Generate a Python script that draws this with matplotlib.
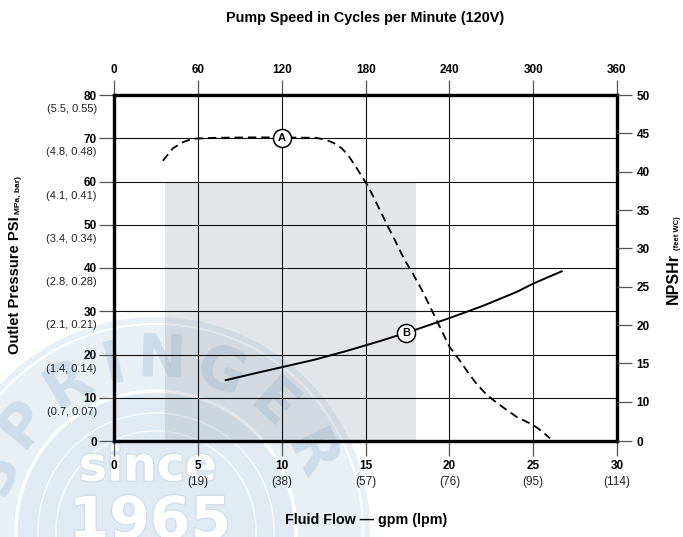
import matplotlib
matplotlib.use('Agg')
import matplotlib.pyplot as plt
import matplotlib.patheffects as pe
from matplotlib.patches import Circle
import numpy as np

plt.rcParams['font.family'] = ['Liberation Sans', 'DejaVu Sans']
plt.rcParams['lines.scale_dashes'] = False

# ---------------- data ----------------
flow_ticks = [0, 5, 10, 15, 20, 25, 30]
flow_lpm_labels = ['', '(19)', '(38)', '(57)', '(76)', '(95)', '(114)']
cpm_ticks = [0, 60, 120, 180, 240, 300, 360]
cpm_per_gpm = 12
psi_ticks = [0, 10, 20, 30, 40, 50, 60, 70, 80]
psi_sub_labels = ['', '(0.7, 0.07)', '(1.4, 0.14)', '(2.1, 0.21)', '(2.8, 0.28)',
                  '(3.4, 0.34)', '(4.1, 0.41)', '(4.8, 0.48)', '(5.5, 0.55)']
npshr_ticks = [10, 15, 20, 25, 30, 35, 40, 45, 50]
npshr_bottom = 4.87          # bottom of right axis, labelled "0"
npshr_bottom_label = '0'

curve_a_flow = [2.9, 3.5, 4.1, 4.7, 6.0, 8.0, 10.0, 12.0, 12.6, 13.1, 13.6, 14.0,
                14.4, 14.8, 15.1, 15.5, 15.9, 16.3, 16.7, 17.1, 17.4, 17.8, 18.4, 19.0,
                19.5, 20.0, 20.6, 21.1, 21.6, 22.1, 22.6, 23.3, 24.0, 25.0, 25.5, 26.0]
curve_a_psi = [64.8, 67.7, 69.1, 69.9, 70.1, 70.2, 70.2, 70.1, 69.7, 68.9, 67.6, 65.8,
               63.5, 61.0, 59.2, 56.2, 53.0, 49.8, 46.8, 43.6, 41.4, 38.8, 34.6, 29.8,
               25.8, 21.8, 18.7, 15.9, 13.3, 11.2, 9.5, 7.5, 5.6, 3.7, 2.3, 0.6]

curve_b_flow = [6.65, 8.0, 10.0, 12.0, 14.0, 16.0, 18.0, 20.0, 22.0, 24.0, 25.0, 26.7]
curve_b_ft = [12.8, 13.5, 14.5, 15.5, 16.7, 18.0, 19.4, 20.9, 22.5, 24.3, 25.4, 27.0]

shade_flow = [3, 18]
shade_psi_top = 60

label_a = ('A', 10, 70)
label_b = ('B', 17.4, 19.0)

# ---------------- figure ----------------
W, H = 683, 537
fig = plt.figure(figsize=(W / 100, H / 100), dpi=100)
L, R, T, B = 114.3, 617.0, 95.0, 441.0

# watermark background
bg = fig.add_axes([0, 0, 1, 1], zorder=-5)
bg.set_xlim(0, W)
bg.set_ylim(H, 0)
bg.axis('off')
cx, cy = 156, 531
bg.add_patch(Circle((cx, cy), 214, fc='#e8eff5', ec='none'))
bg.add_patch(Circle((cx, cy), 207, fc='none', ec='white', lw=1.5))
bg.add_patch(Circle((cx, cy), 140, fc='#e1eaf2', ec='white', lw=2.5))
for r in (100, 118):
    bg.add_patch(Circle((cx, cy), r, fc='none', ec='white', lw=1.0, alpha=0.8))
for ch, a in zip('SPRINGER', [160, 141, 121, 104, 88, 68, 47, 26]):
    th = np.deg2rad(a)
    bg.text(cx + 171 * np.cos(th), cy - 171 * np.sin(th), ch, rotation=a - 90,
            rotation_mode='anchor', ha='center', va='center', fontsize=42,
            weight='bold', family='DejaVu Sans', color='#cddcea')
bg.text(148, 468, 'since', ha='center', va='center', fontsize=34, weight='bold',
        family='DejaVu Sans', color='white',
        path_effects=[pe.withStroke(linewidth=2, foreground='#d0dfeb')])
bg.text(150, 522, '1965', ha='center', va='center', fontsize=42, weight='bold',
        family='DejaVu Sans', color='white',
        path_effects=[pe.withStroke(linewidth=2, foreground='#d0dfeb')])

ax = fig.add_axes([L / W, 1 - B / H, (R - L) / W, (B - T) / H])
ax.patch.set_visible(False)
ax.set_xlim(0, 30)
ax.set_ylim(0, 80)

ax.fill_between(shade_flow, 0, shade_psi_top, color=(0.58, 0.6, 0.65), alpha=0.25,
                lw=0, zorder=0.3)

ax.set_xticks(flow_ticks)
ax.set_yticks(psi_ticks)
ax.set_xticklabels([str(v) for v in flow_ticks], fontweight='bold')
ax.set_yticklabels([str(v) for v in psi_ticks], fontweight='bold')
ax.grid(True, color='#111111', lw=0.8)
ax.set_axisbelow(True)
ax.tick_params(axis='both', direction='out', length=11, width=0.9, color='#555555',
               labelsize=8.5)
ax.tick_params(axis='y', pad=1.5)
ax.tick_params(axis='x', pad=2.5)
for sp in ax.spines.values():
    sp.set_linewidth(2.4)
    sp.set_color('black')
    sp.set_zorder(3)

for psi, lab in zip(psi_ticks, psi_sub_labels):
    if lab:
        ax.annotate(lab, xy=(0, psi), xycoords=ax.get_yaxis_transform(),
                    xytext=(-12.6, -10.2), textcoords='offset points',
                    ha='right', va='center', fontsize=8, color='#222222')
for f, lab in zip(flow_ticks, flow_lpm_labels):
    if lab:
        ax.annotate(lab, xy=(f, 0), xycoords=ax.get_xaxis_transform(),
                    xytext=(0, -29.5), textcoords='offset points',
                    ha='center', va='center', fontsize=8.5, color='#222222')

# curve A (pressure, dashed)
ax.plot(curve_a_flow, curve_a_psi, color='black', lw=1.3, dashes=(6, 3.6), zorder=2)
ax.plot(label_a[1], label_a[2], 'o', ms=13, mfc='white', mec='black', mew=1.1, zorder=4)
ax.text(label_a[1], label_a[2], label_a[0], ha='center', va='center', fontsize=8,
        weight='bold', zorder=5)

# top axis: pump speed
secax = ax.secondary_xaxis('top', functions=(lambda x: x * cpm_per_gpm,
                                             lambda c: c / cpm_per_gpm))
secax.set_xticks(cpm_ticks)
secax.set_xticklabels([str(v) for v in cpm_ticks], fontweight='bold')
secax.tick_params(direction='out', length=11, width=0.9, color='#555555',
                  labelsize=8.5, pad=2.5)
secax.spines['top'].set_visible(False)

# right axis: NPSHr
ax2 = ax.twinx()
ax2.set_ylim(npshr_bottom, 50)
ax2.set_yticks([npshr_bottom] + npshr_ticks)
ax2.set_yticklabels([npshr_bottom_label] + [str(v) for v in npshr_ticks],
                    fontweight='bold')
ax2.tick_params(axis='y', direction='out', length=11, width=0.9, color='#555555',
                labelsize=8.5, pad=3)
for sp in ax2.spines.values():
    sp.set_visible(False)
ax2.plot(curve_b_flow, curve_b_ft, color='black', lw=1.4, zorder=2)
ax2.plot(label_b[1], label_b[2], 'o', ms=13, mfc='white', mec='black', mew=1.1, zorder=4)
ax2.text(label_b[1], label_b[2], label_b[0], ha='center', va='center', fontsize=8,
         weight='bold', zorder=5)

# titles
fig.text(365 / W, 1 - 18 / H, 'Pump Speed in Cycles per Minute (120V)', ha='center',
         va='center', fontsize=10.4, weight='bold')
fig.text(366 / W, 1 - 520 / H, 'Fluid Flow \u2014 gpm (lpm)', ha='center',
         va='center', fontsize=10.3, weight='bold')

fig.canvas.draw()
renderer = fig.canvas.get_renderer()


def stacked_vertical(x_right, center_y, parts, gap=3):
    texts = []
    for s, size, weight in parts:
        t = fig.text(0, 0, s, rotation=90, fontsize=size, weight=weight,
                     ha='right', va='bottom', transform=None)
        texts.append(t)
    hs = [t.get_window_extent(renderer).height for t in texts]
    total = sum(hs) + gap * (len(hs) - 1)
    y = (H - center_y) - total / 2
    for t, h in zip(texts, hs):
        t.set_position((x_right, y))
        y += h + gap


stacked_vertical(22, 265, [('Outlet Pressure PSI', 10.6, 'bold'), ('MPa, bar)', 6, 'bold')])
stacked_vertical(681, 260, [('NPSHr', 11.5, 'bold'), ('(feet WC)', 5.5, 'bold')])

fig.savefig('out.png', dpi=100)
